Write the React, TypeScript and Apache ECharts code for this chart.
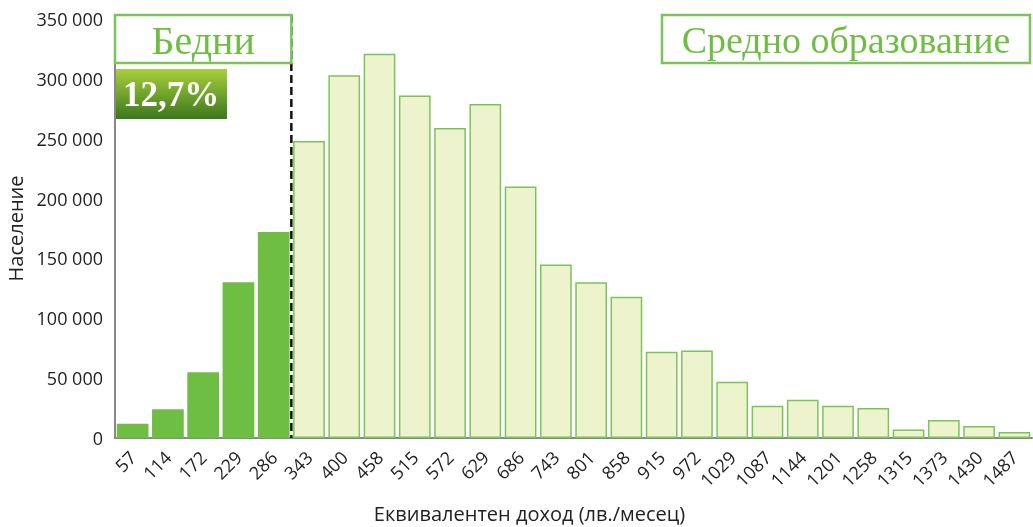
import React, { useEffect, useRef } from "react";
import * as echarts from "echarts";

const categories = ["57","114","172","229","286","343","400","458","515","572","629","686","743","801","858","915","972","1029","1087","1144","1201","1258","1315","1373","1430","1487"];
const population = [12000,24000,55000,130000,172000,248000,303000,321000,286000,259000,279000,210000,145000,130000,118000,72000,73000,47000,27000,32000,27000,25000,7000,15000,10000,5000];
const poorCount = 5;
const poorLabel = "Бедни";
const poorShare = "12,7%";
const groupLabel = "Средно образование";
const yTicks = { min: 0, max: 350000, interval: 50000 };

const fmt = (v: number) => String(v).replace(/\B(?=(\d{3})+(?!\d))/g, " ");

export default function App() {
  const ref = useRef<HTMLDivElement>(null);
  useEffect(() => {
    const chart = echarts.init(ref.current!, null, { renderer: "svg" });
    const data = population.map((v, i) => ({
      value: v,
      itemStyle: i < poorCount
        ? { color: "#6fbe44", borderColor: "#6fbe44", borderWidth: 0 }
        : { color: "#edf3cc", borderColor: "#7cc45a", borderWidth: 1.5 },
    }));
    chart.setOption({
      animation: false,
      grid: { left: 115, right: 1, top: 19, bottom: 89, outerBoundsMode: "none", containLabel: false },
      xAxis: {
        type: "category",
        data: categories,
        name: "Еквивалентен доход (лв./месец)",
        nameLocation: "middle",
        nameGap: 65,
        nameTextStyle: { fontFamily: "Open Sans", fontSize: 20, color: "#222", padding: [0, 88, 0, 0] },
        axisLine: { lineStyle: { color: "#888", width: 2 } },
        axisTick: { show: false },
        axisLabel: { rotate: 45, fontFamily: "Open Sans", fontSize: 18, color: "#222", margin: 16, interval: 0 },
      },
      yAxis: {
        type: "value",
        min: yTicks.min,
        max: yTicks.max,
        interval: yTicks.interval,
        name: "Население",
        nameLocation: "middle",
        nameGap: 88,
        nameTextStyle: { fontFamily: "Open Sans", fontSize: 20, color: "#222" },
        axisLine: { show: true, lineStyle: { color: "#888", width: 2 } },
        axisTick: { show: false },
        splitLine: { show: false },
        axisLabel: { fontFamily: "Open Sans", fontSize: 18, color: "#222", margin: 12, formatter: (v: number) => fmt(v) },
      },
      series: [{ type: "bar", data, barCategoryGap: "10%" }],
    });
    const p4 = chart.convertToPixel({ xAxisIndex: 0 }, poorCount - 1) as number;
    const p5 = chart.convertToPixel({ xAxisIndex: 0 }, poorCount) as number;
    const xb = (p4 + p5) / 2;
    const y0 = chart.convertToPixel({ yAxisIndex: 0 }, 0) as number;
    chart.setOption({
      graphic: [
        { type: "line", shape: { x1: xb, y1: 15, x2: xb, y2: y0 }, style: { stroke: "#111", lineWidth: 2.5, lineDash: [8, 4] }, z: 100 },
        { type: "rect", shape: { x: 115, y: 15, width: xb - 115, height: 48 }, style: { fill: "#fff", stroke: "#7cc45a", lineWidth: 2.5 }, z: 101 },
        { type: "text", x: (115 + xb) / 2, y: 40, style: { text: poorLabel, fill: "#6fbe44", font: "40px 'Liberation Serif', serif", align: "center", verticalAlign: "middle" }, z: 102 },
        { type: "rect", shape: { x: 116, y: 69, width: 111, height: 50 }, style: { fill: new echarts.graphic.LinearGradient(0, 0, 0, 1, [{ offset: 0, color: "#a8d03c" }, { offset: 1, color: "#3b771d" }]) }, z: 101 },
        { type: "text", x: 171, y: 94, style: { text: poorShare, fill: "#fff", font: "bold 35px 'Liberation Serif', serif", align: "center", verticalAlign: "middle" }, z: 102 },
        { type: "rect", shape: { x: 662, y: 15, width: 368, height: 48 }, style: { fill: "#fff", stroke: "#7cc45a", lineWidth: 2.5 }, z: 101 },
        { type: "text", x: 846, y: 40, style: { text: groupLabel, fill: "#6fbe44", font: "38px 'Liberation Serif', serif", align: "center", verticalAlign: "middle" }, z: 102 },
      ],
    });
    return () => chart.dispose();
  }, []);
  return <div ref={ref} style={{ position: "fixed", left: 0, top: 0, width: 1033, height: 527 }} />;
}
